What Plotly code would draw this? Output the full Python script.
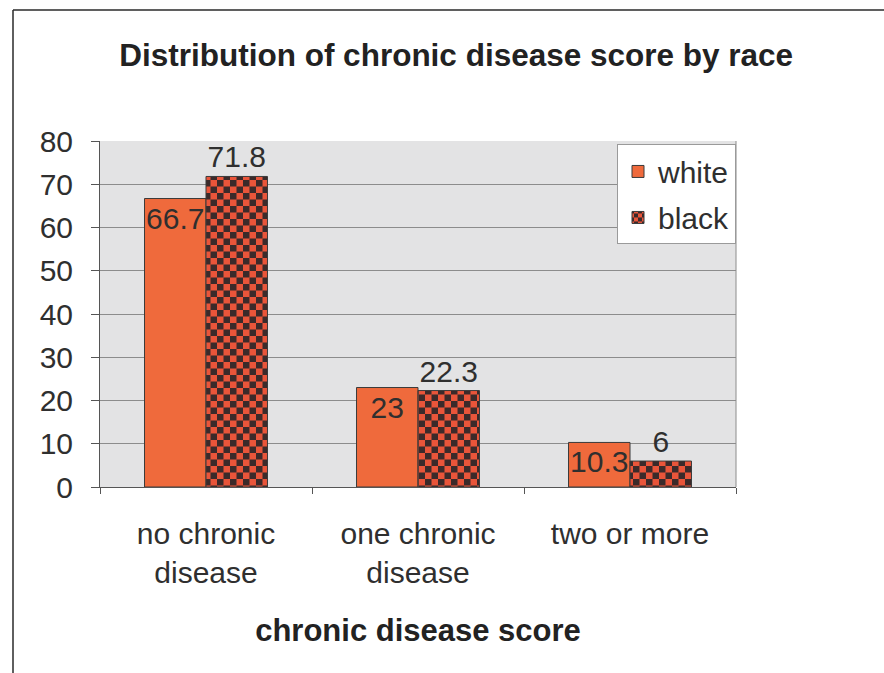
import plotly.graph_objects as go

# Chronic disease score distribution (%) by race
categories = ["no chronic<br>disease", "one chronic<br>disease", "two or more"]
white_pct = [66.7, 23, 10.3]
black_pct = [71.8, 22.3, 6]
y_ticks = [0, 10, 20, 30, 40, 50, 60, 70, 80]

ORANGE = "#EF6A3C"
CHECK_RED = "#E9553A"
CHECK_DARK = "#3B2A2A"
OUTLINE = "#3a3a3a"
TEXT = "#2f2f2f"
FONT = "Liberation Sans, Arial, sans-serif"
FS = 30

fig = go.Figure()
fig.add_trace(go.Bar(
    name="white", x=categories, y=white_pct,
    marker=dict(color=ORANGE, line=dict(color=OUTLINE, width=1)),
    text=[f"{v:g}" for v in white_pct], textposition="inside",
    insidetextanchor="end", constraintext="none", textangle=0,
    textfont=dict(size=FS, color=TEXT, family=FONT),
    legendgroup="w",
))
fig.add_trace(go.Bar(
    name="black", x=categories, y=black_pct,
    marker=dict(color=CHECK_RED, line=dict(color=OUTLINE, width=1),
                pattern=dict(shape="+", fgcolor=CHECK_DARK, bgcolor=CHECK_RED,
                             size=13, solidity=0.5, fillmode="replace")),
    text=[f"{v:g}" for v in black_pct], textposition="outside",
    constraintext="none", cliponaxis=False, textangle=0,
    textfont=dict(size=FS, color=TEXT, family=FONT),
    legendgroup="b",
))

L, R, T, B = 100, 148, 141, 186
fig.update_layout(
    width=884, height=673,
    margin=dict(l=L, r=R, t=T, b=B, pad=0),
    paper_bgcolor="white", plot_bgcolor="#E3E3E4",
    font=dict(family=FONT, color=TEXT, size=FS),
    barmode="group", bargap=0.42, bargroupgap=0,
    title=dict(text="<b>Distribution of chronic disease score by race</b>",
               x=0.516, xref="container", xanchor="center",
               y=0.918, yref="container", yanchor="middle",
               font=dict(size=31.5, color="#222222", family=FONT)),
    legend=dict(x=1.0, xanchor="right", y=0.99, yanchor="top",
                bgcolor="white", bordercolor="#9a9a9a", borderwidth=1,
                font=dict(size=FS, color=TEXT, family=FONT),
                traceorder="grouped", tracegroupgap=4),
    showlegend=True,
)
fig.update_yaxes(
    range=[0, 80], tickvals=y_ticks, showgrid=True, gridcolor="#8c8c8c",
    gridwidth=1, showline=True, linecolor="#555555", linewidth=1,
    ticks="outside", ticklen=8, tickcolor="#555555",
    tickfont=dict(size=FS, color=TEXT), ticklabelstandoff=12, zeroline=False,
)
fig.update_xaxes(
    showline=True, linecolor="#555555", linewidth=1,
    ticks="outside", tickson="boundaries", ticklen=6, tickcolor="#555555",
    tickfont=dict(size=FS, color=TEXT), ticklabelstandoff=20,
    title=dict(text="<b>chronic disease score</b>", standoff=31,
               font=dict(size=31, color="#222222")),
)

# right edge of the plot area and the outer frame
fig.add_shape(type="line", xref="x domain", yref="y domain",
              x0=1, x1=1, y0=0, y1=1, line=dict(color="#8c8c8c", width=1))
fig.add_shape(type="line", xref="paper", yref="paper",
              x0=(13 - L) / 636, x1=(13 - L) / 636, y0=(487 - 10) / 346, y1=-0.6,
              line=dict(color="#2a2a2a", width=1.5))
fig.add_shape(type="line", xref="paper", yref="paper",
              x0=(13 - L) / 636, x1=1.4, y0=(487 - 10) / 346, y1=(487 - 10) / 346,
              line=dict(color="#2a2a2a", width=1.5))

# turn the hatch pattern of the "black" series into a checkerboard
checker_js = """
var gd = document.getElementById('{plot_id}');
function checker(){
  var ns = 'http://www.w3.org/2000/svg';
  document.querySelectorAll('pattern').forEach(function(p){
    var w = parseFloat(p.getAttribute('width')), h = parseFloat(p.getAttribute('height'));
    if(!w || !h) return;
    while(p.firstChild) p.removeChild(p.firstChild);
    function r(x, y, ww, hh, c){
      var e = document.createElementNS(ns, 'rect');
      e.setAttribute('x', x); e.setAttribute('y', y);
      e.setAttribute('width', ww); e.setAttribute('height', hh);
      e.setAttribute('fill', c); p.appendChild(e);
    }
    r(0, 0, w, h, '%s');
    r(0, 0, w / 2, h / 2, '%s');
    r(w / 2, h / 2, w / 2, h / 2, '%s');
  });
}
checker();
gd.on('plotly_afterplot', checker);
""" % (CHECK_RED, CHECK_DARK, CHECK_DARK)

fig.write_html("out.html", post_script=checker_js)
